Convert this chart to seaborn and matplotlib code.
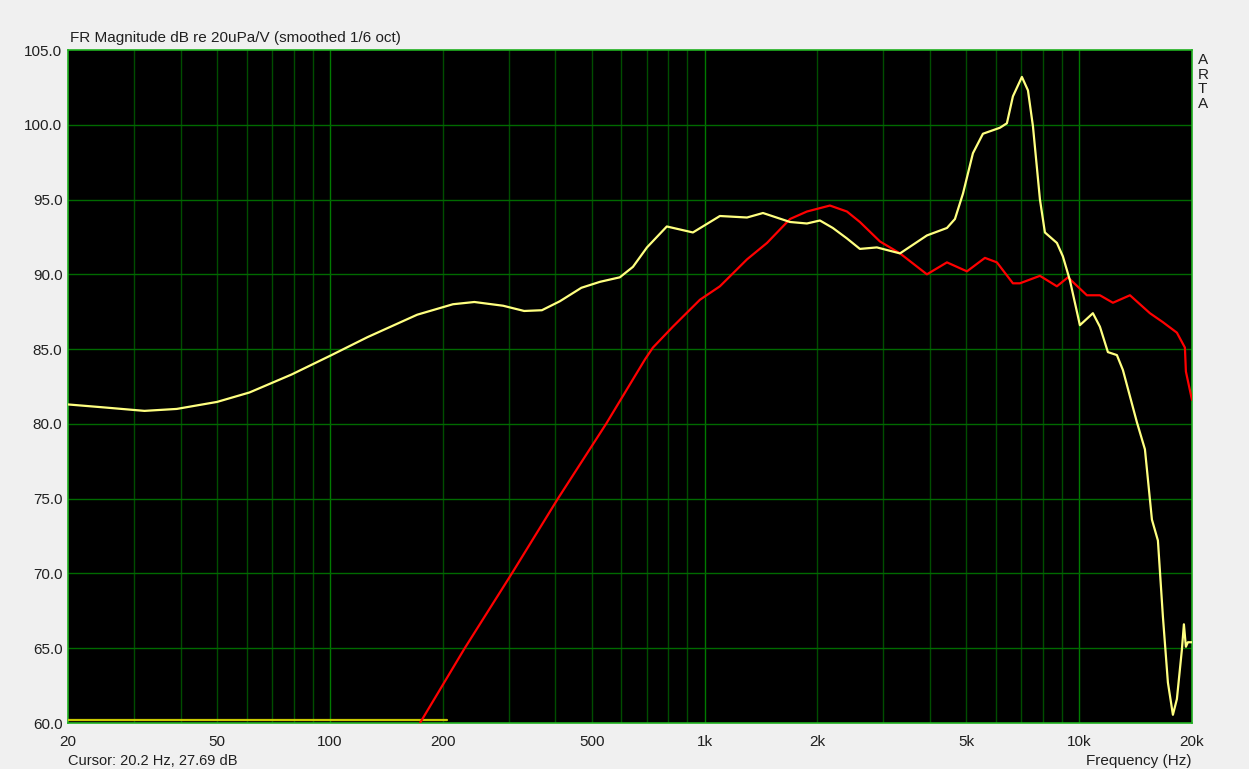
import numpy as np
import pandas as pd
import matplotlib
matplotlib.use('Agg')
import matplotlib.pyplot as plt
import seaborn as sns

# yellow trace (frequency in Hz, level in dB)
yellow_freq = [20, 25, 32, 39, 50, 61, 79, 101, 126, 171, 213, 243, 290, 330, 368,
               411, 469, 526, 594, 644, 702, 793, 931, 1099, 1298, 1432, 1691, 1876,
               2032, 2200, 2399, 2598, 2884, 3324, 3922, 4436, 4659, 4895, 5204, 5534,
               6142, 6412, 6653, 7031, 7298, 7525, 7856, 8099, 8718, 9045, 9444, 10042,
               10877, 11356, 11928, 12606, 13081, 14258, 14976, 15634, 16220, 16726,
               17248, 17786, 18226, 18794, 19028, 19264, 19504, 20000]
yellow_db = [81.3, 81.1, 80.87, 81.0, 81.47, 82.1, 83.3, 84.6, 85.8, 87.3, 88.0, 88.15, 87.9, 87.55, 87.6,
             88.2, 89.1, 89.5, 89.8, 90.5, 91.8, 93.2, 92.8, 93.9, 93.8, 94.1, 93.5, 93.4,
             93.6, 93.1, 92.4, 91.7, 91.8, 91.4, 92.6, 93.1, 93.7, 95.4, 98.1, 99.4,
             99.8, 100.1, 101.9, 103.2, 102.3, 99.9, 95.0, 92.8, 92.1, 91.2, 89.6, 86.6,
             87.4, 86.5, 84.8, 84.6, 83.6, 80.1, 78.3, 73.6, 72.2, 67.1,
             62.7, 60.55, 61.6, 64.9, 66.6, 65.1, 65.4, 65.4]

# red trace
red_freq = [174, 229, 306, 406, 546, 693, 728, 823, 972, 1099, 1298, 1468, 1691, 1876,
            2161, 2399, 2598, 2938, 3324, 3922, 4436, 5016, 5602, 6030, 6653, 6946,
            7856, 8718, 9332, 10484, 11356, 12302, 13660, 15444, 16726, 18226, 19148,
            19264, 20000]
red_db = [60.0, 65.0, 70.0, 75.0, 80.0, 84.3, 85.1, 86.5, 88.3, 89.2, 91.0, 92.1, 93.7, 94.2,
          94.6, 94.2, 93.5, 92.2, 91.4, 90.0, 90.8, 90.2, 91.1, 90.8, 89.4, 89.4,
          89.9, 89.2, 89.8, 88.6, 88.6, 88.1, 88.6, 87.4, 86.8, 86.1, 85.1,
          83.5, 81.6]

# short yellow trace lying on the floor of the plot
floor_freq = [20, 206]
floor_db = [60.18, 60.18]

xtick_vals = [20, 50, 100, 200, 500, 1000, 2000, 5000, 10000, 20000]
xtick_labels = ['20', '50', '100', '200', '500', '1k', '2k', '5k', '10k', '20k']
ytick_vals = [60, 65, 70, 75, 80, 85, 90, 95, 100, 105]

sns.set_style('dark')
plt.rcParams['font.family'] = ['Liberation Sans', 'DejaVu Sans']

fig = plt.figure(figsize=(12.49, 7.69), dpi=100, facecolor='#f0f0f0')
ax = fig.add_axes([68 / 1249, 46 / 769, 1124 / 1249, 673 / 769])
ax.set_facecolor('black')

# grid
minor_lines = [m * d for d in (10, 100, 1000) for m in range(2, 10)] + [30, 40, 50, 60, 70, 80, 90]
for f in sorted(set(minor_lines)):
    if 20 < f < 20000:
        ax.axvline(f, color='#004d00', lw=1, zorder=1)
for f in (100, 1000, 10000):
    ax.axvline(f, color='#007a00', lw=1, zorder=1)
for v in ytick_vals[1:-1]:
    ax.axhline(v, color='#006a00', lw=1, zorder=1)

sns.lineplot(x=floor_freq, y=floor_db, color='#c8c800', lw=1.6, ax=ax, zorder=3)
sns.lineplot(x=red_freq, y=red_db, color='#ff0000', lw=1.6, ax=ax, zorder=4)
sns.lineplot(x=yellow_freq, y=yellow_db, color='#ffff80', lw=1.6, ax=ax, zorder=5)

ax.set_xscale('log')
ax.set_xlim(20, 20000)
ax.set_ylim(60, 105)
ax.set_xticks(xtick_vals)
ax.set_xticklabels(xtick_labels)
ax.set_xticks([], minor=True)
ax.set_yticks(ytick_vals)
ax.set_yticklabels([f'{v:.1f}' for v in ytick_vals])
ax.tick_params(length=0, labelsize=11, colors='#202020')
ax.tick_params(axis='x', pad=9)
ax.tick_params(axis='y', pad=4)
ax.grid(False)
for s in ax.spines.values():
    s.set_visible(True)
    s.set_color('#20b020')
    s.set_linewidth(1.2)
ax.set_xlabel('')
ax.set_ylabel('')

fig.text(70 / 1249, 1 - 38 / 769, 'FR Magnitude dB re 20uPa/V (smoothed 1/6 oct)',
         fontsize=11, color='#202020', va='center', ha='left')
fig.text(68 / 1249, 1 - 761 / 769, 'Cursor: 20.2 Hz, 27.69 dB',
         fontsize=10.5, color='#202020', va='center', ha='left')
fig.text(1192 / 1249, 1 - 761 / 769, 'Frequency (Hz)',
         fontsize=11, color='#202020', va='center', ha='right')
fig.text(1198 / 1249, 1 - 82 / 769, 'A\nR\nT\nA', fontsize=11, color='#202020',
         va='center', ha='left', linespacing=1.05)

fig.savefig('out.png', dpi=100, facecolor=fig.get_facecolor())
